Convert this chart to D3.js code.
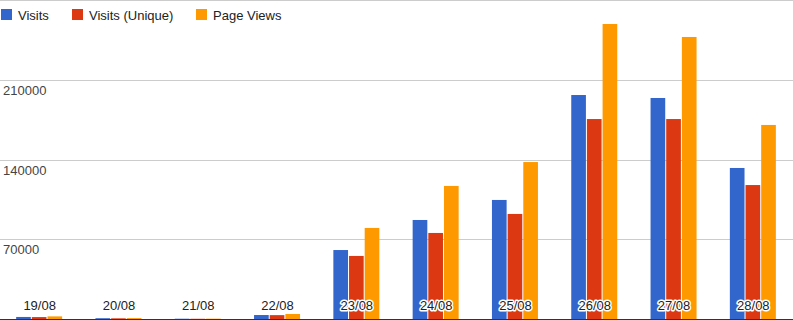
<!DOCTYPE html>
<html>
<head>
<meta charset="utf-8">
<script src="https://cdn.jsdelivr.net/npm/d3@7"></script>
<style>
  html, body { margin: 0; padding: 0; background: #fff; }
  svg { display: block; font-family: Arial, "Liberation Sans", sans-serif; }
</style>
</head>
<body>
<svg id="chart" width="793" height="320"></svg>
<script>
const categories = ["19/08", "20/08", "21/08", "22/08", "23/08", "24/08", "25/08", "26/08", "27/08", "28/08"];
const seriesNames = ["Visits", "Visits (Unique)", "Page Views"];
const visits       = [1800, 700, 250, 3500, 60600, 87000, 104600, 196800, 194200, 132700];
const visitsUnique = [1700, 600, 200, 3400, 55400, 75600, 92300, 175700, 175700, 117700];
const pageViews    = [2300, 800, 300, 4400, 80000, 116900, 137900, 259200, 247800, 170500];
const yTicks = [70000, 140000, 210000, 280000];
const yTickLabels = ["70000", "140000", "210000", ""];
const colors = ["#3366cc", "#dc3912", "#ff9900"];

const series = [visits, visitsUnique, pageViews];
const W = 793, H = 320;
const svg = d3.select("#chart");

const y = d3.scaleLinear().domain([0, 280000]).range([319, 0.33]);
const x0 = d3.scaleBand().domain(categories).range([0, W]).paddingInner(0.4).paddingOuter(0.2);
const x1 = d3.scaleBand().domain(d3.range(series.length)).range([0, 47]).paddingInner(0);

// gridlines
svg.append("g").selectAll("line").data(yTicks).join("line")
  .attr("x1", 0).attr("x2", W)
  .attr("y1", d => Math.round(y(d)) + 0.5).attr("y2", d => Math.round(y(d)) + 0.5)
  .attr("stroke", "#cccccc").attr("stroke-width", 1);

// y labels
svg.append("g").selectAll("text").data(yTicks).join("text")
  .attr("x", 3).attr("y", d => Math.round(y(d)) + 15)
  .attr("font-size", 13).attr("fill", "#444")
  .text((d, i) => yTickLabels[i]);

// bars
const bandW = W / categories.length;
const groups = svg.append("g").selectAll("g").data(categories).join("g")
  .attr("transform", (d, i) => `translate(${i * bandW + bandW / 2 - 23.5},0)`);

groups.selectAll("rect").data((d, i) => series.map((s, k) => ({ k, v: s[i] }))).join("rect")
  .attr("x", d => x1(d.k))
  .attr("width", x1.bandwidth() - 1)
  .attr("y", d => y(d.v))
  .attr("height", d => y(0) - y(d.v))
  .attr("fill", d => colors[d.k]);

// axis baseline
svg.append("line").attr("x1", 0).attr("x2", W).attr("y1", 319.5).attr("y2", 319.5)
  .attr("stroke", "#333").attr("stroke-width", 1);

// category labels with white halo
svg.append("g").selectAll("text").data(categories).join("text")
  .attr("x", (d, i) => i * bandW + bandW / 2)
  .attr("y", 310)
  .attr("text-anchor", "middle")
  .attr("font-size", 13)
  .attr("fill", "#222")
  .attr("stroke", "#fff").attr("stroke-width", 3).attr("stroke-linejoin", "round")
  .attr("paint-order", "stroke")
  .text(d => d);

// legend
const legendX = [1, 72, 196];
const lg = svg.append("g").selectAll("g").data(seriesNames).join("g")
  .attr("transform", (d, i) => `translate(${legendX[i]},0)`);
lg.append("rect").attr("x", 0).attr("y", 9).attr("width", 11).attr("height", 11)
  .attr("fill", (d, i) => colors[i]);
lg.append("text").attr("x", 17).attr("y", 19.5).attr("font-size", 13).attr("fill", "#222")
  .text(d => d);
</script>
</body>
</html>
